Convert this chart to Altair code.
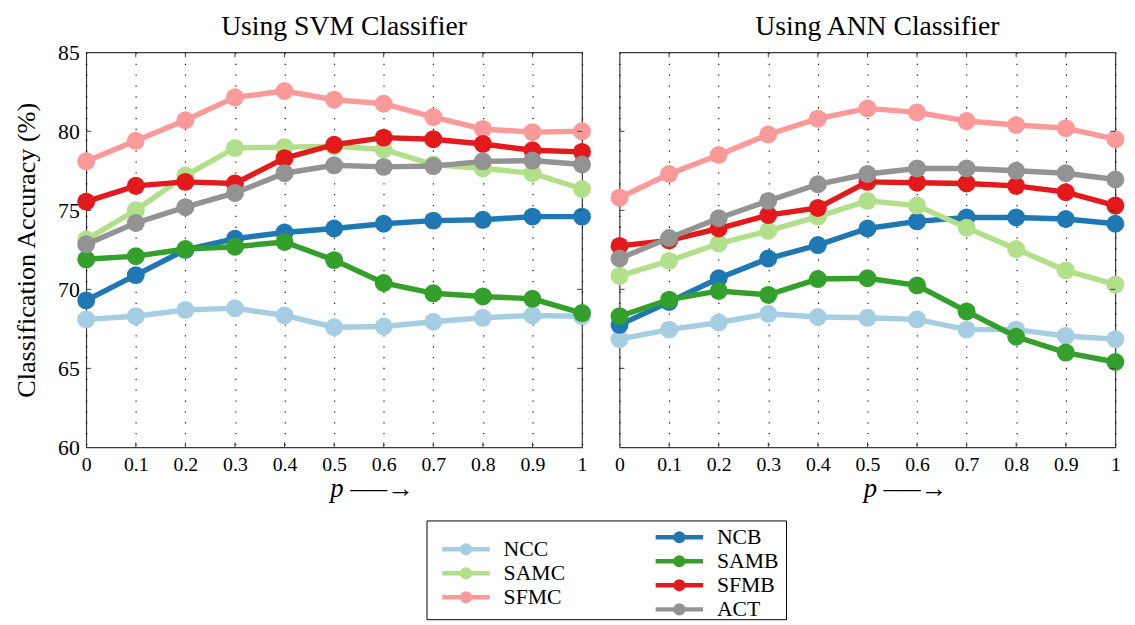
import altair as alt
import pandas as pd

# ---------------- data ----------------
P = [0.0, 0.1, 0.2, 0.3, 0.4, 0.5, 0.6, 0.7, 0.8, 0.9, 1.0]
SERIES = ["NCC", "NCB", "SAMC", "SAMB", "SFMC", "SFMB", "ACT"]
COLORS = ["#a6cee3", "#1f78b4", "#b2df8a", "#33a02c", "#fb9a99", "#e31a1c", "#939393"]

svm_ncc = [68.1, 68.3, 68.7, 68.8, 68.35, 67.6, 67.65, 67.95, 68.2, 68.35, 68.3]
svm_ncb = [69.3, 70.9, 72.5, 73.2, 73.6, 73.85, 74.15, 74.35, 74.4, 74.6, 74.6]
svm_samc = [73.15, 75.0, 77.2, 78.95, 79.0, 79.05, 78.85, 77.9, 77.65, 77.35, 76.35]
svm_samb = [71.9, 72.1, 72.55, 72.7, 73.0, 71.85, 70.4, 69.75, 69.55, 69.4, 68.5]
svm_sfmc = [78.1, 79.4, 80.7, 82.15, 82.55, 82.0, 81.75, 80.9, 80.15, 79.95, 80.0]
svm_sfmb = [75.55, 76.55, 76.8, 76.7, 78.3, 79.15, 79.6, 79.5, 79.2, 78.8, 78.7]
svm_act = [72.85, 74.2, 75.2, 76.1, 77.35, 77.85, 77.75, 77.8, 78.1, 78.15, 77.9]

ann_ncc = [66.85, 67.45, 67.9, 68.45, 68.25, 68.2, 68.1, 67.45, 67.45, 67.05, 66.85]
ann_ncb = [67.75, 69.2, 70.7, 71.95, 72.8, 73.85, 74.3, 74.55, 74.55, 74.45, 74.15]
ann_samc = [70.85, 71.8, 72.9, 73.7, 74.6, 75.6, 75.3, 73.9, 72.55, 71.2, 70.3]
ann_samb = [68.3, 69.35, 69.9, 69.65, 70.65, 70.7, 70.25, 68.6, 67.0, 66.0, 65.4]
ann_sfmc = [75.8, 77.3, 78.5, 79.8, 80.8, 81.45, 81.2, 80.65, 80.4, 80.2, 79.5]
ann_sfmb = [72.75, 73.1, 73.85, 74.7, 75.15, 76.8, 76.75, 76.7, 76.55, 76.15, 75.3]
ann_act = [71.95, 73.25, 74.5, 75.6, 76.65, 77.3, 77.65, 77.65, 77.5, 77.35, 76.95]

Y_TICKS = [65, 70, 75, 80]
X_TICKS = [0.1, 0.2, 0.3, 0.4, 0.5, 0.6, 0.7, 0.8, 0.9]
LEG_LEFT = ["NCC", "SAMC", "SFMC"]
LEG_RIGHT = ["NCB", "SAMB", "SFMB", "ACT"]

# ---------------- build tables ----------------
def long_df(series_lists):
    rows = []
    for name, vals in zip(SERIES, series_lists):
        for p, v in zip(P, vals):
            rows.append({"p": p, "acc": v, "series": name})
    return pd.DataFrame(rows)

svm_df = long_df([svm_ncc, svm_ncb, svm_samc, svm_samb, svm_sfmc, svm_sfmb, svm_act])
ann_df = long_df([ann_ncc, ann_ncb, ann_samc, ann_samb, ann_sfmc, ann_sfmb, ann_act])
ytick_df = pd.DataFrame({"v": Y_TICKS})
xtick_df = pd.DataFrame({"v": X_TICKS})

FONT = "Liberation Serif"
W, H = 502, 400
TICK = 5
FRAME = "#3a3a3a"

xscale = alt.Scale(domain=[0, 1], nice=False, zero=False)
yscale = alt.Scale(domain=[60, 85], nice=False, zero=False)
cscale = alt.Scale(domain=SERIES, range=COLORS)


def panel(df, title, show_y, title_offset):
    xaxis = alt.Axis(
        values=P, format="~g", ticks=False, domain=False, grid=True, labelFlush=False,
        gridColor="#000000", gridDash=[1.3, 9.7], gridWidth=1.1,
        labelFont=FONT, labelFontSize=20, labelColor="black", labelPadding=7,
        title="p  \u2013\u2014\u2192", titleFont=FONT, titleFontSize=27,
        titleFontStyle="italic", titleFontWeight="normal", titleColor="black",
        titlePadding=2, titleX=W / 2 + 38, titleAlign="center",
    )
    if show_y:
        yaxis = alt.Axis(
            values=[60, 65, 70, 75, 80, 85], ticks=False, domain=False, grid=False,
            labelFlush=False,
            labelFont=FONT, labelFontSize=22, labelColor="black", labelPadding=7,
            title="Classification Accuracy (%)", titleFont=FONT, titleFontSize=26.5,
            titleFontWeight="normal", titleColor="black", titlePadding=17,
        )
    else:
        yaxis = alt.Axis(labels=False, ticks=False, domain=False, grid=False, title=None)
    layers = []
    base = alt.Chart(df)
    for s in SERIES:
        sub = base.transform_filter(alt.datum.series == s)
        enc = dict(
            x=alt.X("p:Q", scale=xscale, axis=xaxis),
            y=alt.Y("acc:Q", scale=yscale, axis=yaxis),
            color=alt.Color("series:N", scale=cscale, legend=None),
        )
        layers.append(sub.mark_line(strokeWidth=5.5).encode(**enc))
        layers.append(sub.mark_point(filled=True, opacity=1, size=330).encode(**enc))
    # inward tick marks on all four sides
    tk = alt.Chart(ytick_df)
    layers.append(tk.mark_rule(color=FRAME, strokeWidth=1).encode(
        y=alt.Y("v:Q", scale=yscale), x=alt.value(0), x2=alt.value(TICK)))
    layers.append(tk.mark_rule(color=FRAME, strokeWidth=1).encode(
        y=alt.Y("v:Q", scale=yscale), x=alt.value(W - TICK), x2=alt.value(W)))
    tx = alt.Chart(xtick_df)
    layers.append(tx.mark_rule(color=FRAME, strokeWidth=1).encode(
        x=alt.X("v:Q", scale=xscale), y=alt.value(H - TICK), y2=alt.value(H)))
    layers.append(tx.mark_rule(color=FRAME, strokeWidth=1).encode(
        x=alt.X("v:Q", scale=xscale), y=alt.value(0), y2=alt.value(TICK)))
    return alt.layer(*layers).properties(
        width=W, height=H,
        title=alt.TitleParams(title, font=FONT, fontSize=28, fontWeight="normal",
                              color="black", offset=title_offset, anchor="middle", dx=10),
    )


left = panel(svm_df, "Using SVM Classifier", True, 1)
right = panel(ann_df, "Using ANN Classifier", False, 11)

# ---------------- legend (two columns, drawn with scales) ----------------
LW, LH = 364, 100
COL_SHIFT = 216
leg_rows = []
for i, n in enumerate(LEG_LEFT):
    leg_rows.append({"series": n, "row": i + 0.5, "col": 0})
for i, n in enumerate(LEG_RIGHT):
    leg_rows.append({"series": n, "row": float(i), "col": 1})
leg_df = pd.DataFrame(leg_rows)
leg_df["x0"] = 16 + COL_SHIFT * leg_df["col"]
leg_df["x1"] = 64 + COL_SHIFT * leg_df["col"]
leg_df["xm"] = 40 + COL_SHIFT * leg_df["col"]
leg_df["xt"] = 78 + COL_SHIFT * leg_df["col"]

lx = alt.Scale(domain=[0, LW], nice=False, zero=False)
ly = alt.Scale(domain=[-0.7, 3.41], nice=False, zero=False, reverse=True)
lbase = alt.Chart(leg_df)
leg = alt.layer(
    lbase.mark_rule(strokeWidth=4.5).encode(
        x=alt.X("x0:Q", scale=lx, axis=None), x2="x1:Q",
        y=alt.Y("row:Q", scale=ly, axis=None),
        color=alt.Color("series:N", scale=cscale, legend=None)),
    lbase.mark_point(filled=True, opacity=1, size=150).encode(
        x=alt.X("xm:Q", scale=lx, axis=None),
        y=alt.Y("row:Q", scale=ly, axis=None),
        color=alt.Color("series:N", scale=cscale, legend=None)),
    lbase.mark_text(align="left", baseline="middle", font=FONT, fontSize=22,
                    color="black").encode(
        x=alt.X("xt:Q", scale=lx, axis=None),
        y=alt.Y("row:Q", scale=ly, axis=None),
        text="series:N"),
).properties(width=LW, height=LH, view=alt.ViewBackground(stroke="black", strokeWidth=1))

top = alt.hconcat(left, right, spacing=14)
chart = alt.vconcat(top, leg, spacing=17, center=True).properties(
    padding={"left": 5, "top": 0, "right": 0, "bottom": 0},
    background="white",
).configure_view(stroke=FRAME, strokeWidth=1.2)

chart.save("out.html", embed_options={"renderer": "svg", "actions": False})
